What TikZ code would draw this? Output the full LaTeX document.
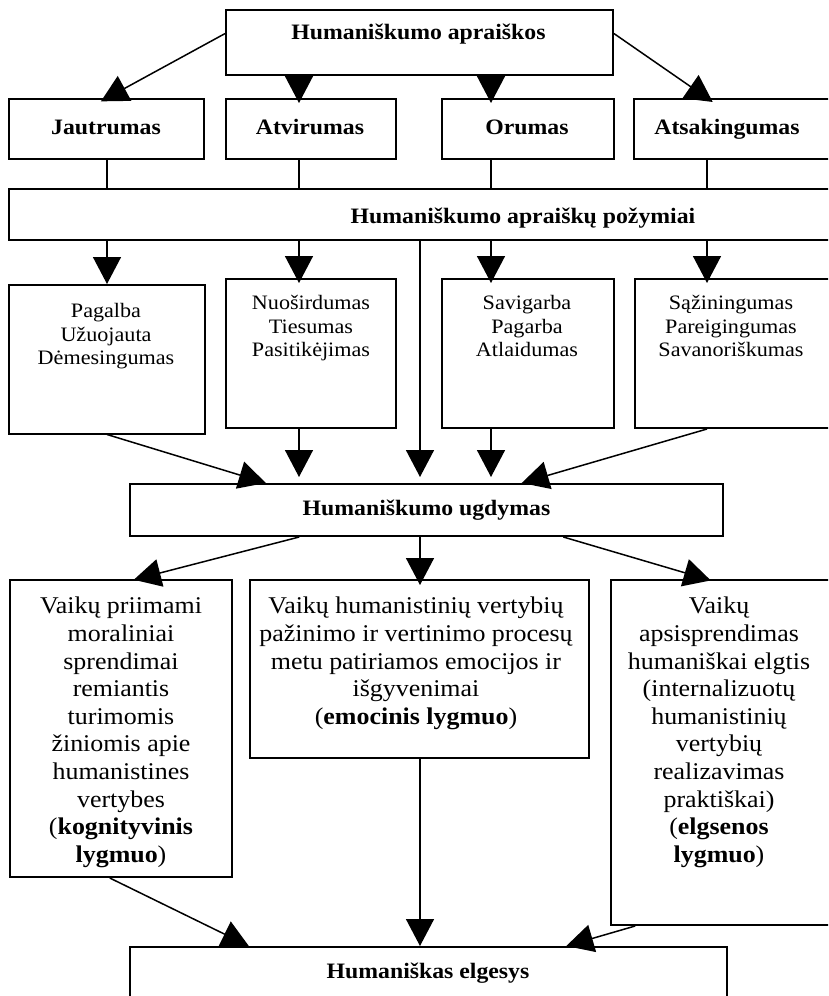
\documentclass[tikz,border=0pt]{standalone}
\usepackage{fontspec}
\setmainfont{Liberation Serif}[FakeStretch=1.08]
\usetikzlibrary{positioning,calc,arrows.meta}

\tikzset{
  box/.style={draw,line width=2pt,inner sep=0pt,anchor=north west},
  ttl/.style={font=\bfseries\fontsize{22}{25}\selectfont},
  small/.style={font=\fontsize{20.5}{23.6}\selectfont,align=center,inner sep=0pt,anchor=north},
  big/.style={font=\fontsize{24}{27.6}\selectfont,align=center,inner sep=0pt,anchor=north},
  link/.style={line width=1.5pt},
}

\begin{document}
\begin{tikzpicture}[x=1pt,y=-1pt,>={Triangle[length=27pt,width=28pt]}]
\useasboundingbox (0,0) rectangle (828,996);
\clip (0,0) rectangle (828,996);
% columns for the vertical links
\coordinate (c1) at (107,0);
\coordinate (c2) at (299,0);
\coordinate (c3) at (420,0);
\coordinate (c4) at (491,0);
\coordinate (c5) at (707,0);

% top
\node[box,minimum width=387pt,minimum height=65pt] (apr) at (225,9) {};
\node[ttl,anchor=base] (apr-t) at (418.5,39) {Humaniškumo apraiškos};

% the four forms
\node[box,minimum width=195pt,minimum height=59.5pt] (jaut) at (8,98) {};
\node[ttl,anchor=base] (jaut-t) at (106,134) {Jautrumas};
\node[box,minimum width=170pt,minimum height=59.5pt] (atv) at (225,98) {};
\node[ttl,anchor=base] (atv-t) at (310,134) {Atvirumas};
\node[box,minimum width=172pt,minimum height=59.5pt] (orum) at (441,98) {};
\node[ttl,anchor=base] (orum-t) at (527,134) {Orumas};
\node[box,minimum width=212pt,minimum height=59.5pt] (atsak) at (633,98) {};
\node[ttl,anchor=base] (atsak-t) at (727,134) {Atsakingumas};

\node[box,minimum width=837pt,minimum height=51pt] (pozym) at (8,188) {};
\node[ttl,anchor=base] (pozym-t) at (523,223) {Humaniškumo apraiškų požymiai};

% features
\node[box,minimum width=196pt,minimum height=148.5pt] (pag) at (8,284) {};
\node[small] (pag-t) at (106,303) {Pagalba\\Užuojauta\\Dėmesingumas};
\node[box,minimum width=170pt,minimum height=149pt] (nuo) at (225,278) {};
\node[small] (nuo-t) at (311,295) {Nuoširdumas\\Tiesumas\\Pasitikėjimas};
\node[box,minimum width=172pt,minimum height=149pt] (sav) at (441,278) {};
\node[small] (sav-t) at (527,295) {Savigarba\\Pagarba\\Atlaidumas};
\node[box,minimum width=211pt,minimum height=149pt] (saz) at (634,278) {};
\node[small] (saz-t) at (731,295) {Sąžiningumas\\Pareigingumas\\Savanoriškumas};

\node[box,ttl,minimum width=593pt,minimum height=52pt] (ugd) at (129,483) {Humaniškumo ugdymas};

% levels
\node[box,minimum width=222pt,minimum height=297pt] (kog) at (9,579) {};
\node[big] (kog-t) at (121,597) {Vaikų priimami\\moraliniai\\sprendimai\\remiantis\\turimomis\\žiniomis apie\\humanistines\\vertybes\\(\textbf{kognityvinis}\\\textbf{lygmuo})};
\node[box,minimum width=339pt,minimum height=178pt] (emo) at (249,579) {};
\node[big] (emo-t) at (416,597) {Vaikų humanistinių vertybių\\pažinimo ir vertinimo procesų\\metu patiriamos emocijos ir\\išgyvenimai\\(\textbf{emocinis lygmuo})};
\node[box,minimum width=235pt,minimum height=345pt] (elg) at (610,579) {};
\node[big] (elg-t) at (719,597) {Vaikų\\apsisprendimas\\humaniškai elgtis\\(internalizuotų\\humanistinių\\vertybių\\realizavimas\\praktiškai)\\(\textbf{elgsenos}\\\textbf{lygmuo})};

\node[box,minimum width=597pt,minimum height=70pt] (elges) at (129,946) {};
\node[ttl,anchor=base] (elges-t) at (428,978) {Humaniškas elgesys};

% arrows from the top
\draw[link,->,shorten >=-7pt] (apr.west |- apr-t) -- (jaut.north -| c1);
\draw[link,->,shorten >=-5pt] (apr.south -| c2) -- (atv.north -| c2);
\draw[link,->,shorten >=-5pt] (apr.south -| c4) -- (orum.north -| c4);
\draw[link,->,shorten >=-7pt] (apr.east |- apr-t) -- (atsak.north -| c5);

\foreach \b/\c in {jaut/c1,atv/c2,orum/c4,atsak/c5}
  \draw[link] (\b.south -| \c) -- (pozym.north -| \c);

\draw[link,->] (pozym.south -| c1) -- (pag.north -| c1);
\draw[link,->,shorten >=-5pt] (pozym.south -| c2) -- (nuo.north -| c2);
\draw[link,->,shorten >=-5pt] (pozym.south -| c4) -- (sav.north -| c4);
\draw[link,->,shorten >=-5pt] (pozym.south -| c5) -- (saz.north -| c5);

% into the education box
\draw[link,->] (pag.south) -- ($(ugd.north west)!0.23!(ugd.north east)$);
\draw[link,->,shorten >=6pt] (nuo.south -| c2) -- (ugd.north -| c2);
\draw[link,->,shorten >=6pt] (pozym.south -| c3) -- (ugd.north -| c3);
\draw[link,->,shorten >=6pt] (sav.south -| c4) -- (ugd.north -| c4);
\draw[link,->] (saz.south -| c5) -- ($(ugd.north west)!0.66!(ugd.north east)$);

% out to the three levels
\draw[link,->,shorten >=-3pt] ($(ugd.south west)!0.286!(ugd.south east)$) -- ($(kog.north west)!0.57!(kog.north east)$);
\draw[link,->,shorten >=-6pt] (ugd.south -| c3) -- (emo.north -| c3);
\draw[link,->,shorten >=-5pt] ($(ugd.south west)!0.73!(ugd.south east)$) -- ($(elg.north west)!0.405!(elg.north east)$);

% to behaviour
\draw[link,->] ($(kog.south west)!0.45!(kog.south east)$) -- ($(elges.north west)!0.2!(elges.north east)$);
\draw[link,->] (emo.south -| c3) -- (elges.north -| c3);
\draw[link,->] ($(elg.south west)!0.106!(elg.south east)$) -- ($(elges.north west)!0.73!(elges.north east)$);
\end{tikzpicture}
\end{document}
